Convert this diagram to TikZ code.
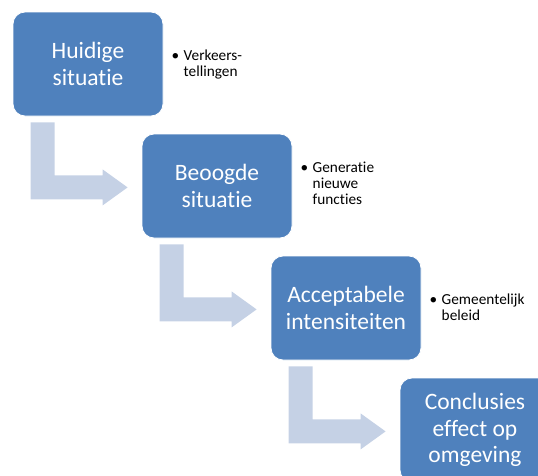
\documentclass[tikz,border=0pt]{standalone}
\usepackage{fontspec}
\setmainfont[Ligatures=NoCommon,RawFeature={-liga;-dlig;-clig}]{Carlito}
\usetikzlibrary{calc}
\definecolor{boxblue}{HTML}{4F81BD}
\definecolor{arrowblue}{HTML}{C5D1E5}
\tikzset{
  x=1pt, y=-1pt,
  stepbox/.style={draw=white, line width=0.8pt, fill=boxblue, rounded corners=12pt,
    minimum width=150pt, minimum height=104pt, inner sep=0pt, text=white,
    align=center, font=\fontsize{23.5}{26.5}\selectfont},
  note/.style={anchor=west, align=left, inner sep=0pt, font=\fontsize{15.3}{16}\selectfont},
  bentarrow/.pic={
    \fill[arrowblue] (0,0) -- (24,0) -- (24,53) -- (72,53) -- (72,47) -- (97,65)
      -- (72,83) -- (72,77) -- (0,77) -- cycle;
  }
}
\newcommand{\bulletlines}[1]{\begin{tabular}{@{}l@{\hspace{4.5pt}}l@{}}#1\end{tabular}}
\begin{document}
\begin{tikzpicture}
\useasboundingbox (0,0) rectangle (538,475);
\clip (0,0) rectangle (538,475);
\node[stepbox] (b1) at (88,64) {Huidige\\situatie};
\node[stepbox] (b2) at (217,186) {Beoogde\\situatie};
\node[stepbox] (b3) at (346,308) {Acceptabele\\intensiteiten};
\node[stepbox] (b4) at (475,430) {Conclusies\\effect op\\omgeving};
\pic at ($(b1.south west)+(18,6)$) {bentarrow};
\pic at ($(b2.south west)+(18,6)$) {bentarrow};
\pic at ($(b3.south west)+(18,6)$) {bentarrow};
\node[note] (n1) at ($(b1.east)+(8,1)$) {\bulletlines{• & Verkeers-\\ & tellingen}};
\node[note] (n2) at ($(b2.east)+(8,-1)$) {\bulletlines{• & Generatie\\ & nieuwe\\ & functies}};
\node[note] (n3) at ($(b3.east)+(8,1)$) {\bulletlines{• & Gemeentelijk\\ & beleid}};
\end{tikzpicture}
\end{document}
